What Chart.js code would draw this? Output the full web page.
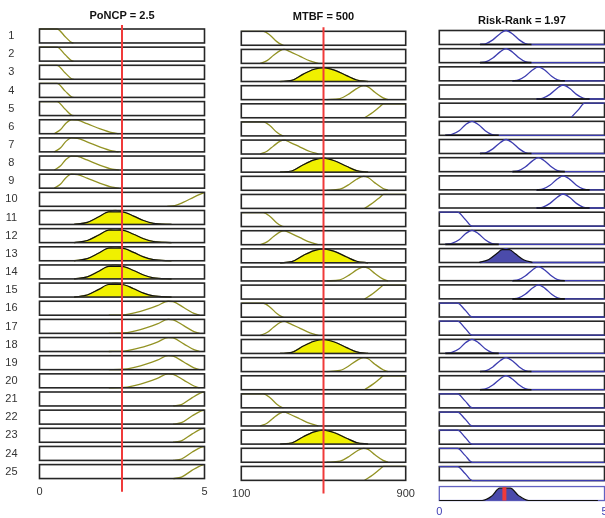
<!DOCTYPE html>
<html lang="en">
<head>
<meta charset="UTF-8">
<title>Rule Viewer: Risk-Rank</title>
<script src="https://cdn.jsdelivr.net/npm/chart.js"></script>
<style>
  html, body { margin: 0; padding: 0; background: #fff; overflow: hidden; width: 605px; height: 518px; }
  canvas { position: absolute; top: 0; }
</style>
</head>
<body>
<canvas id="ponChart" width="215" height="518" style="left:0"></canvas>
<canvas id="mtbfChart" width="205" height="518" style="left:215px"></canvas>
<canvas id="riskChart" width="200" height="518" style="left:420px"></canvas>

<script>
  // ---- inputs / output ----
  const ponInput = 2.5;
  const mtbfInput = 500;
  const riskOutput = 1.97;

  const rowLabels = ['1','2','3','4','5','6','7','8','9','10','11','12','13','14','15','16','17','18','19','20','21','22','23','24','25'];

  // membership functions, [x, degree]
  const ponLow    = [[0, 1], [0.53, 1], [0.78, 0.45], [0.98, 0.02], [1.03, 0]];
  const ponMidLow = [[0.45, 0], [0.64, 0.3], [0.8, 0.75], [0.97, 1], [1.15, 0.97], [1.44, 0.72], [1.84, 0.34], [2.2, 0.07], [2.4, 0]];
  const ponEdge   = [[3.87, 0], [4.1, 0.05], [4.37, 0.3], [4.68, 0.66], [5, 1]];
  const ponMid    = [[1.05, 0], [1.45, 0.15], [1.8, 0.55], [2.1, 0.9], [2.3, 1], [2.5, 0.9], [2.85, 0.6], [3.15, 0.28], [3.45, 0.08], [4.0, 0]];
  const ponMidCut = [[1.05, 0], [1.45, 0.15], [1.8, 0.55], [2.1, 0.9], [2.5, 0.9], [2.85, 0.6], [3.15, 0.28], [3.45, 0.08], [4.0, 0]];
  const ponHigh   = [[2.1, 0], [2.56, 0.03], [3.06, 0.27], [3.57, 0.68], [3.9, 1], [4.05, 0.97], [4.37, 0.55], [4.68, 0.13], [4.85, 0]];
  const ponVHigh  = [[4.05, 0], [4.3, 0.1], [4.63, 0.6], [4.93, 0.97], [5, 1]];

  const mtbfLow    = [[100, 1], [208, 1], [240, 0.72], [273, 0.26], [297, 0.04], [305, 0]];
  const mtbfMidLow = [[192, 0], [225, 0.2], [257, 0.58], [289, 0.92], [308, 1], [337, 0.84], [386, 0.5], [434, 0.18], [475, 0]];
  const mtbfMid    = [[289, 0], [346, 0.08], [402, 0.53], [451, 0.86], [500, 1], [556, 0.8], [612, 0.42], [661, 0.11], [717, 0]];
  const mtbfHigh   = [[515, 0], [580, 0.08], [628, 0.45], [661, 0.79], [695, 1], [717, 0.92], [750, 0.53], [790, 0.13], [814, 0]];
  const mtbfVHigh  = [[700, 0], [741, 0.4], [774, 0.79], [792, 1], [900, 1]];

  const riskLow     = [[0, 1], [0.55, 1], [0.78, 0.5], [1.0, 0], [5, 0]];
  const riskVLow    = [[0.18, 0], [0.38, 0.07], [0.6, 0.33], [0.8, 0.77], [0.99, 1], [1.19, 0.75], [1.39, 0.33], [1.58, 0.07], [1.8, 0], [5, 0]];
  const riskMLow    = [[1.23, 0], [1.42, 0.07], [1.62, 0.33], [1.84, 0.77], [2.02, 1], [2.22, 0.75], [2.42, 0.33], [2.6, 0.07], [2.79, 0], [5, 0]];
  const riskMid     = [[2.21, 0], [2.4, 0.07], [2.6, 0.33], [2.82, 0.77], [3.0, 1], [3.2, 0.75], [3.4, 0.33], [3.58, 0.07], [3.8, 0], [5, 0]];
  const riskHigh    = [[2.94, 0], [3.14, 0.07], [3.35, 0.33], [3.57, 0.77], [3.75, 1], [3.95, 0.75], [4.15, 0.33], [4.35, 0.07], [4.55, 0], [5, 0]];
  const riskVHigh   = [[4.0, 0], [4.2, 0.5], [4.4, 1], [5, 1]];
  const riskMLowCut = [[1.2, 0], [1.5, 0.22], [1.75, 0.66], [1.9, 0.92], [2.12, 0.92], [2.3, 0.62], [2.55, 0.2], [2.82, 0]];
  const riskAggregate = [[0, 0], [1.3, 0], [1.58, 0.3], [1.83, 0.88], [2.15, 0.88], [2.4, 0.35], [2.7, 0], [4.8, 0]];

  // which function each rule uses
  const ponRows = ['low','low','low','low','low','midLow','midLow','midLow','midLow','edge',
                   'mid','mid','mid','mid','mid','high','high','high','high','high',
                   'vHigh','vHigh','vHigh','vHigh','vHigh'];
  const mtbfRows = ['low','midLow','mid','high','vHigh','low','midLow','mid','high','vHigh',
                    'low','midLow','mid','high','vHigh','low','midLow','mid','high','vHigh',
                    'low','midLow','mid','high','vHigh'];
  const riskRows = ['midLow','midLow','mid','high','vHigh','vLow','midLow','mid','high','high',
                    'low','vLow','midLow','mid','mid','low','low','vLow','midLow','midLow',
                    'low','low','low','low','low'];

  const ponFiredRows = [11, 12, 13, 14, 15];
  const mtbfFiredRows = [3, 8, 13, 18, 23];
  const riskFiredRows = [13];

  const ponShapes = { low: ponLow, midLow: ponMidLow, edge: ponEdge, mid: ponMid, high: ponHigh, vHigh: ponVHigh };
  const mtbfShapes = { low: mtbfLow, midLow: mtbfMidLow, mid: mtbfMid, high: mtbfHigh, vHigh: mtbfVHigh };
  const riskShapes = { low: riskLow, vLow: riskVLow, midLow: riskMLow, mid: riskMid, high: riskHigh, vHigh: riskVHigh };

  Chart.defaults.font.family = "'Liberation Sans', Arial, sans-serif";
  Chart.defaults.font.size = 11;

  // row frames + red marker line
  const framePlugin = {
    id: 'frames',
    beforeDatasetsDraw(chart, args, opts) {
      if (opts.under) drawFrames(chart, opts);
    },
    afterDatasetsDraw(chart, args, opts) {
      if (!opts.under) drawFrames(chart, opts);
      drawMarker(chart, opts);
    }
  };

  function drawFrames(chart, opts) {
    const ctx = chart.ctx, x = chart.scales.x;
    ctx.save();
    Object.keys(chart.scales).filter(id => /^r\d+$/.test(id)).forEach(id => {
      const s = chart.scales[id];
      const top = s.getPixelForValue(1), bottom = s.getPixelForValue(0);
      const agg = id === opts.aggAxis;
      ctx.strokeStyle = agg ? '#6262c0' : '#262626';
      ctx.lineWidth = agg ? 1.3 : 1.6;
      ctx.strokeRect(x.left, top, x.right - x.left, bottom - top);
    });
    ctx.restore();
  }

  function drawMarker(chart, opts) {
    const ctx = chart.ctx, area = chart.chartArea;
    const px = chart.scales.x.getPixelForValue(opts.marker);
    ctx.save();
    ctx.strokeStyle = '#f03a3a';
    ctx.beginPath();
    if (opts.aggAxis) {
      const s = chart.scales[opts.aggAxis];
      ctx.lineWidth = 4;
      ctx.moveTo(px, s.getPixelForValue(0.95));
      ctx.lineTo(px, s.getPixelForValue(0));
    } else {
      ctx.lineWidth = 2;
      ctx.moveTo(px, area.top - 4);
      ctx.lineTo(px, area.bottom + 9);
    }
    ctx.stroke();
    ctx.restore();
  }

  function buildColumn(c) {
    const scales = {
      x: {
        type: 'linear', position: 'bottom', min: c.range[0], max: c.range[1],
        grid: { display: false, drawTicks: false }, border: { display: false },
        ticks: { color: c.tickColor, padding: c.tickPad, maxRotation: 0 },
        afterBuildTicks: s => { s.ticks = [{ value: s.min }, { value: s.max }]; },
        afterFit: s => { s.height = c.axisHeight; }
      }
    };
    const nRows = c.rows.length + (c.aggregate ? 1 : 0);
    for (let i = 0; i < nRows; i++) {
      const agg = c.aggregate && i === c.rows.length;
      scales['r' + i] = {
        type: 'linear', axis: 'y', position: 'left', display: false,
        stack: 'rows', stackWeight: 1, weight: 100 - i,
        min: agg ? -0.17 : -0.3, max: agg ? 1.13 : 1
      };
    }
    if (c.showLabels) {
      scales.lab = {
        type: 'category', axis: 'y', position: 'left', labels: rowLabels, offset: true,
        grid: { display: false, drawTicks: false }, border: { display: false },
        ticks: { color: '#333', padding: 22, crossAlign: 'center', labelOffset: -2, autoSkip: false },
        afterFit: s => { s.width = 39.5; }
      };
    }

    const base = { pointRadius: 0, cubicInterpolationMode: 'monotone', clip: 4 };
    const datasets = [];
    c.rows.forEach((name, i) => {
      const shape = c.shapes[name];
      const axis = 'r' + i;
      if (c.firedRows.includes(i + 1)) {
        datasets.push({ ...base, data: c.firedShape, yAxisID: axis, borderColor: '#111', borderWidth: 1.2,
                        backgroundColor: c.fillColor, fill: 'origin', order: 1 });
      } else if (c.baseline) {
        // zero-height patch along the support
        const ends = shape.filter(p => p[1] === 0 && p[0] !== c.range[1]);
        if (ends.length >= 2) {
          datasets.push({ ...base, data: [[ends[0][0], 0], [ends[ends.length - 1][0], 0]], yAxisID: axis,
                          borderColor: '#111', borderWidth: 1.6, fill: false, order: 1 });
        }
      }
      datasets.push({ ...base, data: shape, yAxisID: axis, borderColor: c.lineColor, borderWidth: 1.3, fill: false, order: 2 });
    });
    if (c.aggregate) {
      datasets.push({ ...base, data: c.aggregate, yAxisID: 'r' + c.rows.length, borderColor: '#111', borderWidth: 1.2,
                      backgroundColor: c.fillColor, fill: 'origin', order: 1 });
    }

    new Chart(document.getElementById(c.canvas), {
      type: 'line',
      data: { datasets },
      options: {
        responsive: false,
        animation: false,
        events: [],
        layout: { padding: c.padding },
        plugins: {
          legend: { display: false },
          tooltip: { enabled: false },
          title: { display: true, text: c.title, fullSize: false, color: '#111',
                   font: { size: 11, weight: 'bold' }, padding: c.titlePad },
          frames: { under: c.framesUnder, marker: c.marker, aggAxis: c.aggregate ? 'r' + c.rows.length : null }
        },
        scales
      },
      plugins: [framePlugin]
    });
  }

  buildColumn({
    canvas: 'ponChart', title: 'PoNCP = ' + ponInput, range: [0, 5], marker: ponInput,
    rows: ponRows, shapes: ponShapes, firedRows: ponFiredRows, firedShape: ponMidCut,
    lineColor: '#939324', fillColor: '#f0f000', tickColor: '#333', showLabels: true,
    padding: { left: 0, right: 10.5, top: 0, bottom: 5.25 }, titlePad: { top: 9.2, bottom: 6.6 },
    axisHeight: 30, tickPad: 3, framesUnder: false
  });

  buildColumn({
    canvas: 'mtbfChart', title: 'MTBF = ' + mtbfInput, range: [100, 900], marker: mtbfInput,
    rows: mtbfRows, shapes: mtbfShapes, firedRows: mtbfFiredRows, firedShape: mtbfMid,
    lineColor: '#939324', fillColor: '#f0f000', tickColor: '#333', showLabels: false,
    padding: { left: 26.3, right: 14.3, top: 0, bottom: 3.45 }, titlePad: { top: 10.1, bottom: 8 },
    axisHeight: 30, tickPad: 2.4, framesUnder: false
  });

  buildColumn({
    canvas: 'riskChart', title: 'Risk-Rank = ' + riskOutput, range: [0, 5], marker: riskOutput,
    rows: riskRows, shapes: riskShapes, firedRows: riskFiredRows, firedShape: riskMLowCut,
    aggregate: riskAggregate, baseline: true,
    lineColor: '#3c3cb0', fillColor: '#4b4bab', tickColor: '#4040b4', showLabels: false,
    padding: { left: 19.3, right: 15.5, top: 0, bottom: 3.1 }, titlePad: { top: 13.9, bottom: 3.4 },
    axisHeight: 12, tickPad: 2, framesUnder: true
  });
</script>
</body>
</html>
